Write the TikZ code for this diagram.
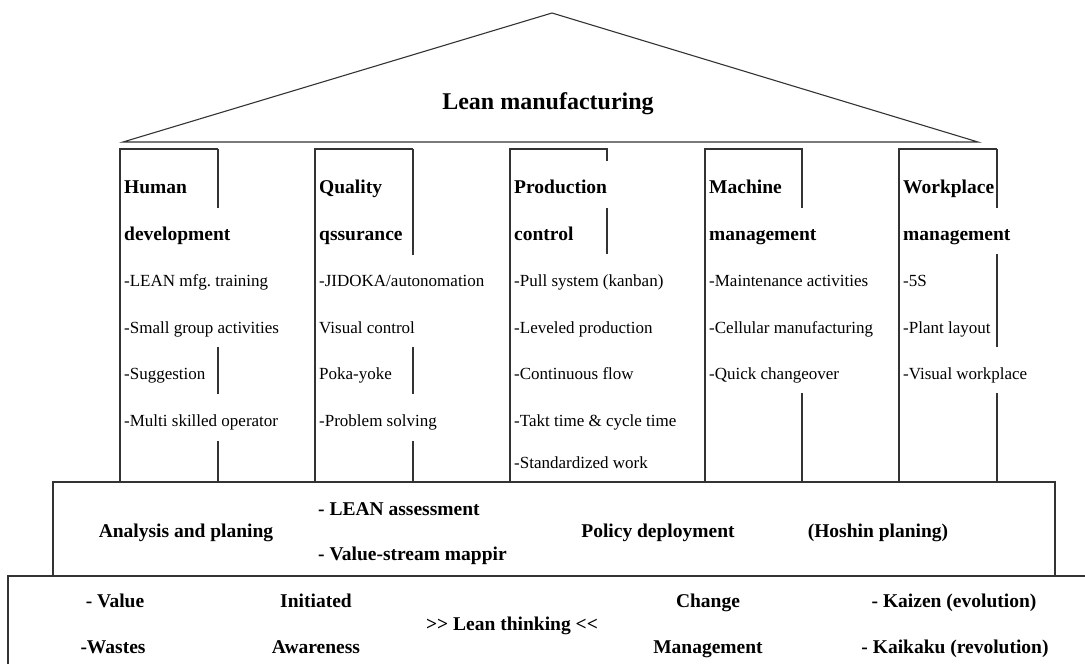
\documentclass[tikz,border=0pt]{standalone}
\usepackage{fontspec}
\setmainfont{Liberation Serif}
\frenchspacing
\begin{document}
\begin{tikzpicture}[x=1pt,y=-1pt,
  frame/.style={draw=black!80,line width=1.1pt},
  title/.style={anchor=base,inner sep=0pt,font=\fontsize{24}{26}\selectfont\bfseries},
  head/.style={anchor=base west,inner sep=0pt,font=\fontsize{19.5}{21}\selectfont\bfseries},
  item/.style={anchor=base west,inner sep=0pt,font=\fontsize{17}{18}\selectfont},
  bold/.style={anchor=base,inner sep=0pt,font=\fontsize{19.5}{21}\selectfont\bfseries},
  boldw/.style={anchor=base west,inner sep=0pt,font=\fontsize{19.5}{21}\selectfont\bfseries}]
\useasboundingbox (0,0) rectangle (1085,664);

% roof
\draw[frame,line join=miter] (123,142) -- (552,13) -- (978,142) -- cycle;
\node[title] (roof) at (548,109) {Lean manufacturing};

% pillars: left and top edges
\foreach \x in {120,315,510,705,899}
  \draw[frame] (\x,482) -- (\x,149) -- (\x+98,149);
% pillars: right edges, interrupted by the text boxes
\foreach \x/\a/\b in {218/149/208, 218/347/394, 218/441/482,
                      413/149/255, 413/347/394, 413/441/482,
                      607/149/161, 607/208/254,
                      802/149/208, 802/393/482,
                      997/149/208, 997/254/347, 997/393/482}
  \draw[frame] (\x,\a) -- (\x,\b);

% pillar 1
\node[head] (h1a) at (124,193) {Human};
\node[head] (h1b) at (124,240) {development};
\node[item] (i1a) at (124,286) {-LEAN mfg. training};
\node[item] (i1b) at (124,333) {-Small group activities};
\node[item] (i1c) at (124,379) {-Suggestion};
\node[item] (i1d) at (124,426) {-Multi skilled operator};

% pillar 2
\node[head] (h2a) at (319,193) {Quality};
\node[head] (h2b) at (319,240) {qssurance};
\node[item] (i2a) at (319,286) {-JIDOKA/autonomation};
\node[item] (i2b) at (319,333) {Visual control};
\node[item] (i2c) at (319,379) {Poka-yoke};
\node[item] (i2d) at (319,426) {-Problem solving};

% pillar 3
\node[head] (h3a) at (514,193) {Production};
\node[head] (h3b) at (514,240) {control};
\node[item] (i3a) at (514,286) {-Pull system (kanban)};
\node[item] (i3b) at (514,333) {-Leveled production};
\node[item] (i3c) at (514,379) {-Continuous flow};
\node[item] (i3d) at (514,426) {-Takt time \& cycle time};
\node[item] (i3e) at (514,468) {-Standardized work};

% pillar 4
\node[head] (h4a) at (709,193) {Machine};
\node[head] (h4b) at (709,240) {management};
\node[item] (i4a) at (709,286) {-Maintenance activities};
\node[item] (i4b) at (709,333) {-Cellular manufacturing};
\node[item] (i4c) at (709,379) {-Quick changeover};

% pillar 5
\node[head] (h5a) at (903,193) {Workplace};
\node[head] (h5b) at (903,240) {management};
\node[item] (i5a) at (903,286) {-5S};
\node[item] (i5b) at (903,333) {-Plant layout};
\node[item] (i5c) at (903,379) {-Visual workplace};

% middle step
\draw[frame] (53,576) -- (53,482) -- (1055,482) -- (1055,576);
\node[bold]  (m1) at (186,537) {Analysis and planing};
\node[boldw] (m2) at (318,515) {- LEAN assessment};
\node[boldw] (m3) at (318,560) {- Value-stream mappir};
\node[bold]  (m4) at (658,537) {Policy deployment};
\node[bold]  (m5) at (878,537) {(Hoshin planing)};

% base step
\draw[frame] (8,664) -- (8,576) -- (1085,576);
\node[bold] (b1) at (115,607) {- Value};
\node[bold] (b2) at (113,653) {-Wastes};
\node[bold] (b3) at (316,607) {Initiated};
\node[bold] (b4) at (316,653) {Awareness};
\node[bold] (b5) at (512,630) {>\kern0pt> Lean thinking <\kern0pt<};
\node[bold] (b6) at (708,607) {Change};
\node[bold] (b7) at (708,653) {Management};
\node[bold] (b8) at (954,607) {- Kaizen (evolution)};
\node[bold] (b9) at (955,653) {- Kaikaku (revolution)};
\end{tikzpicture}
\end{document}
